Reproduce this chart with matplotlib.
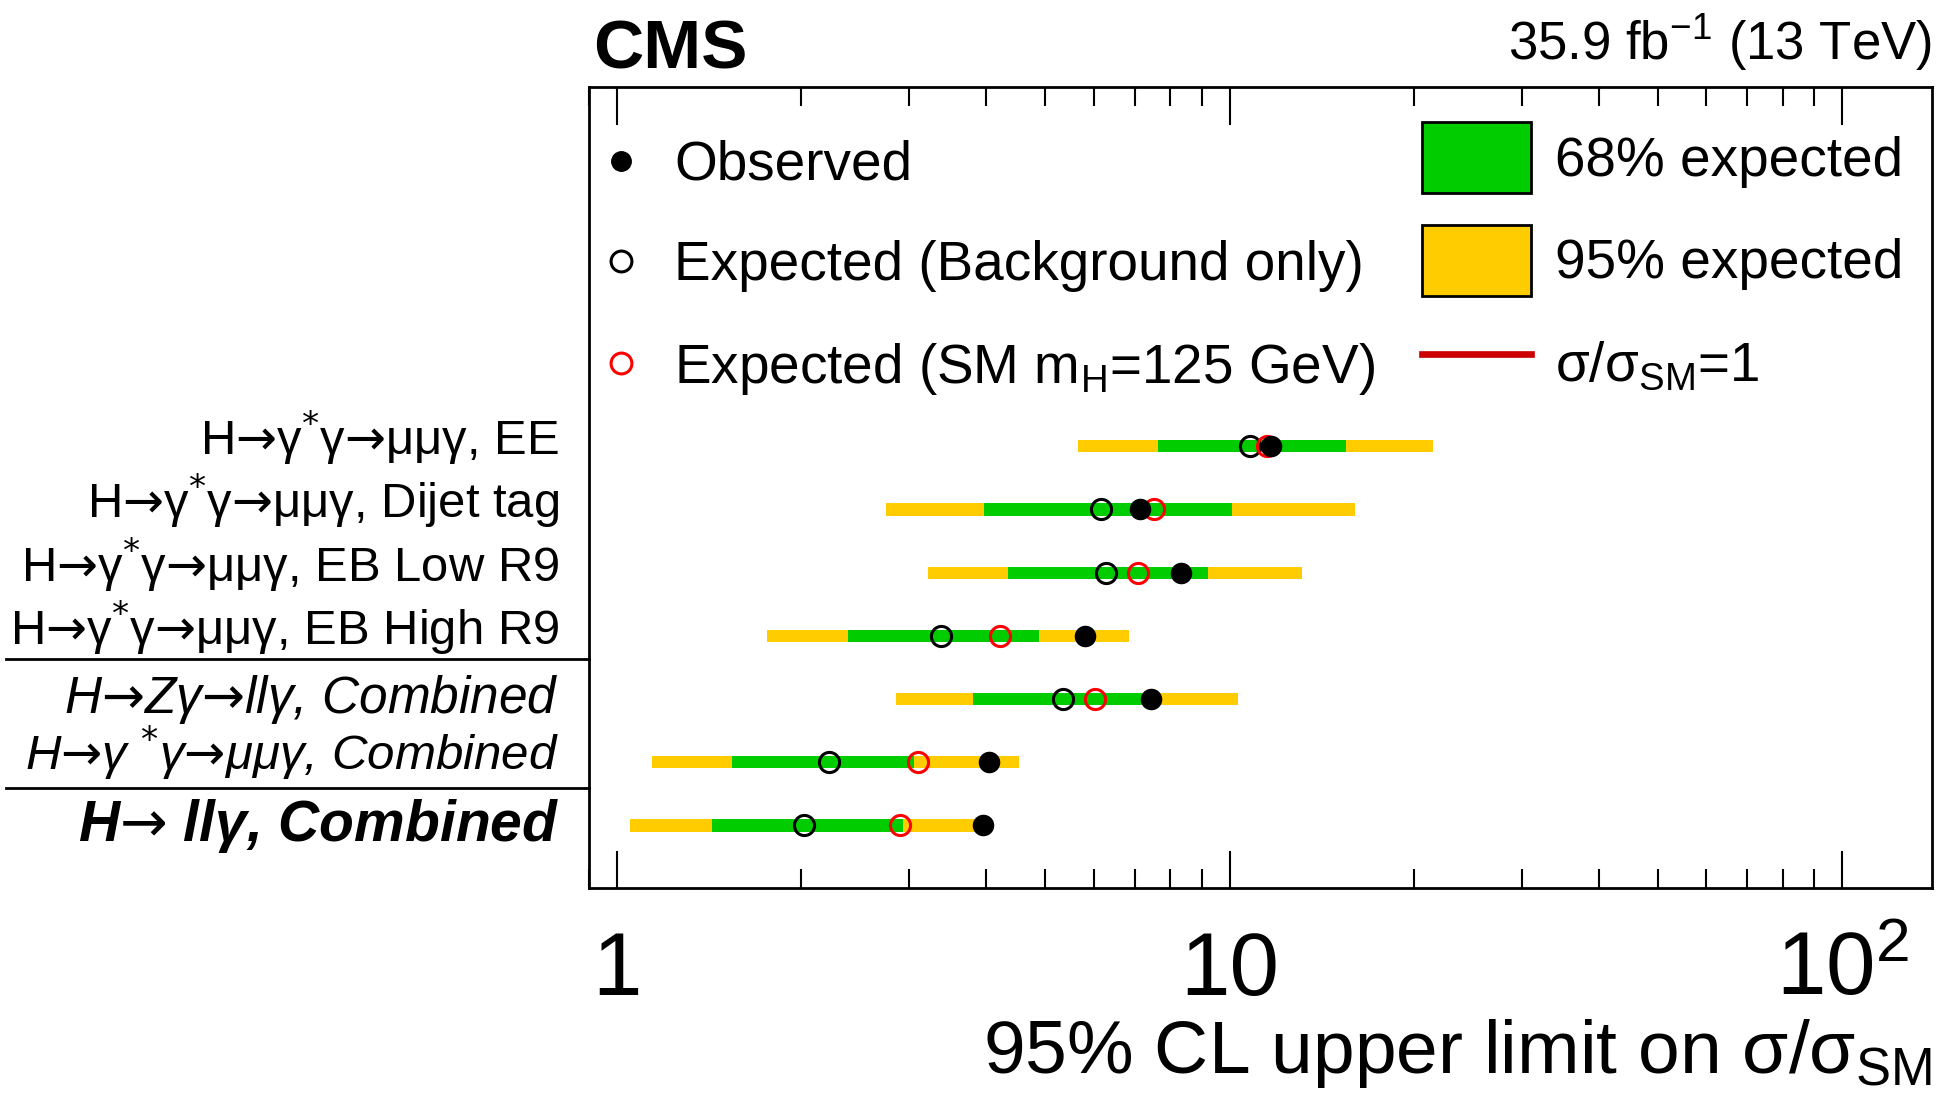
import numpy as np
import matplotlib
matplotlib.use("Agg")
import matplotlib.pyplot as plt
from matplotlib.lines import Line2D
from matplotlib.patches import Patch
from matplotlib.ticker import LogLocator, NullFormatter

plt.rcParams['font.family'] = ['Liberation Sans', 'DejaVu Sans']
plt.rcParams['mathtext.fontset'] = 'dejavusans'
plt.rcParams['mathtext.default'] = 'rm'

# categories, top to bottom
labels = ["H$→$γ$^{*}$γ$→$μμγ, EE",
          "H$→$γ$^{*}$γ$→$μμγ, Dijet tag",
          "H$→$γ$^{*}$γ$→$μμγ, EB Low R9",
          "H$→$γ$^{*}$γ$→$μμγ, EB High R9",
          "H$→$Zγ$→$llγ, Combined",
          "H$→$γ $^{*}$γ$→$μμγ, Combined",
          "H$→$ llγ, Combined"]

# limits on sigma/sigma_SM
lo95 = [5.65, 2.75, 3.22, 1.76, 2.85, 1.14, 1.05]
lo68 = [7.63, 3.97, 4.35, 2.38, 3.81, 1.54, 1.43]
hi68 = [15.5, 10.1, 9.21, 4.89, 7.3, 3.05, 2.93]
hi95 = [21.5, 16.0, 13.1, 6.84, 10.3, 4.53, 3.85]
exp_bkg = [10.8, 6.17, 6.28, 3.38, 5.34, 2.22, 2.02]
exp_sm = [11.5, 7.52, 7.08, 4.22, 6.03, 3.10, 2.90]
observed = [11.7, 7.14, 8.34, 5.80, 7.44, 4.05, 3.95]

xticks = [1, 10, 100]
xticklabels = ['1', '10', r'$\mathregular{10^{2}}$']

# label styling
lab_style = ['normal'] * 4 + ['italic'] * 3
lab_weight = ['normal'] * 6 + ['bold']
lab_size = [35.3] * 4 + [37, 35.5, 41]
lab_off = [0.142] * 4 + [0.217, 0.122, 0.244]
separators = [2.627, 0.595]

green = '#00cc00'
yellow = '#ffcc00'

fig = plt.figure(figsize=(19.42, 10.99), dpi=100)
ax = fig.add_axes([0.3033, 0.1920, 0.6915, 0.7291])
ax.set_xscale('log')

ypos = np.arange(len(labels))[::-1]
lo95 = np.array(lo95); hi95 = np.array(hi95)
lo68 = np.array(lo68); hi68 = np.array(hi68)

ax.barh(ypos, hi95 - lo95, left=lo95, height=0.195, color=yellow, zorder=1)
ax.barh(ypos, hi68 - lo68, left=lo68, height=0.195, color=green, zorder=2)
ax.plot(exp_bkg, ypos, 'o', mfc='none', mec='k', mew=2.2, ms=14.5, zorder=3)
ax.plot(exp_sm, ypos, 'o', mfc='none', mec='#ff0000', mew=2.2, ms=14.5, zorder=4)
ax.plot(observed, ypos, 'o', color='k', ms=14.5, zorder=5)

ax.set_xlim(0.9, 140)
ax.set_ylim(-0.99, 11.69)
ax.set_yticks([])

ax.set_xticks(xticks)
ax.set_xticklabels(xticklabels)
ax.xaxis.set_minor_locator(LogLocator(subs=np.arange(2, 10)))
ax.xaxis.set_minor_formatter(NullFormatter())
ax.tick_params(axis='x', which='both', direction='in', top=True, bottom=True, width=1.5)
ax.tick_params(axis='x', which='major', length=27, labelsize=64, pad=77)
ax.tick_params(axis='x', which='minor', length=14)
for lab in ax.get_xticklabels():
    lab.set_verticalalignment('baseline')
for sp in ax.spines.values():
    sp.set_linewidth(2)

# row labels and separators
ytr = ax.get_yaxis_transform()
for i, lab in enumerate(labels):
    ax.text(-0.0223, ypos[i] - lab_off[i], lab, transform=ytr, ha='right', va='baseline',
            fontsize=lab_size[i], style=lab_style[i], weight=lab_weight[i])
for s in separators:
    ax.plot([-0.434, 0], [s, s], transform=ytr, color='k', lw=2, clip_on=False)

# legends
h1 = [Line2D([], [], marker='o', ls='none', color='k', ms=14),
      Line2D([], [], marker='o', ls='none', mfc='none', mec='k', mew=2.2, ms=15),
      Line2D([], [], marker='o', ls='none', mfc='none', mec='#ff0000', mew=2.2, ms=15)]
leg1 = ax.legend(h1, ['Observed', 'Expected (Background only)',
                      r'Expected (SM m$_{\mathregular{H}}$=125 GeV)'],
                 loc='upper left', bbox_to_anchor=(0.0034, 0.9335), frameon=False, fontsize=39.5,
                 handlelength=1.0, handletextpad=0.47, labelspacing=0.88, borderpad=0, borderaxespad=0)
ax.add_artist(leg1)

h2 = [Patch(facecolor=green, edgecolor='k', lw=2),
      Patch(facecolor=yellow, edgecolor='k', lw=2),
      Line2D([], [], color='#cc0000', lw=4.8)]
ax.legend(h2, ['68% expected', '95% expected', r'σ/σ$_{\mathregular{SM}}$=1'],
          loc='upper left', bbox_to_anchor=(0.620, 0.9556), frameon=False, fontsize=39.5,
          handlelength=2.0, handleheight=1.61, handletextpad=0.43, labelspacing=0.58,
          borderpad=0, borderaxespad=0)

ax.text(0.003, 1.0233, 'CMS', transform=ax.transAxes, fontsize=50, fontweight='bold',
        ha='left', va='baseline')
ax.text(1.0, 1.0333, r'35.9 fb$^{\mathregular{-1}}$ (13 TeV)', transform=ax.transAxes, fontsize=38,
        ha='right', va='baseline')
ax.text(1.0, -0.2305, r'95% CL upper limit on σ/σ$_{\mathregular{SM}}$', transform=ax.transAxes,
        fontsize=54, ha='right', va='baseline')

fig.savefig('out.png', dpi=100)
